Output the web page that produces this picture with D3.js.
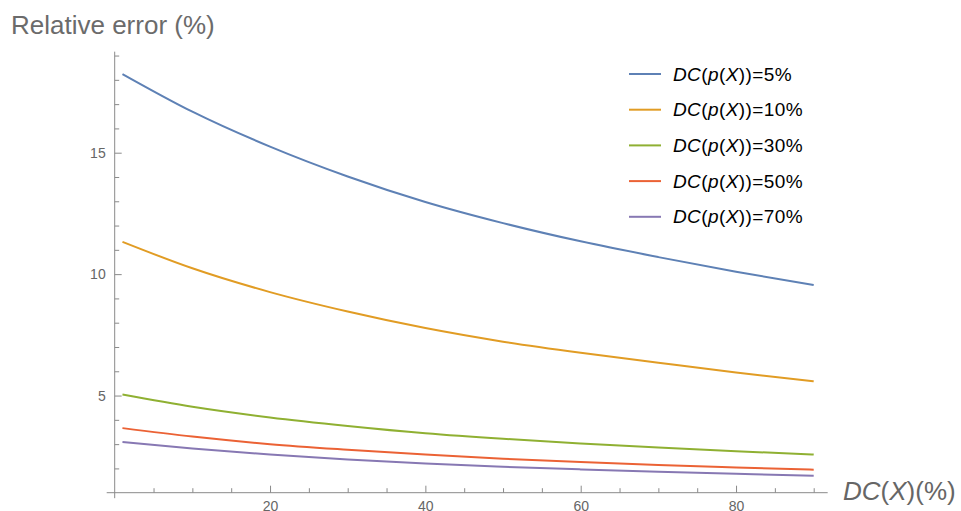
<!DOCTYPE html>
<html>
<head>
<meta charset="utf-8">
<script src="https://cdn.jsdelivr.net/npm/d3@7"></script>
<style>
  body { margin: 0; background: #fff; }
  svg { font-family: "Liberation Sans", Arial, sans-serif; }
</style>
</head>
<body>
<svg id="chart" width="961" height="511"></svg>
<script>
// DC(X) in %
const dcX = [1, 10, 20, 30, 40, 50, 60, 70, 80, 90];

// relative error (%) per DC(p(X)) level
const err5  = [18.24, 16.69, 15.25, 14.02, 12.97, 12.1, 11.35, 10.7, 10.1, 9.55];
const err10 = [11.33, 10.24, 9.26, 8.46, 7.78, 7.22, 6.76, 6.35, 5.95, 5.59];
const err30 = [5.04, 4.54, 4.1, 3.75, 3.45, 3.22, 3.03, 2.86, 2.71, 2.57];
const err50 = [3.66, 3.31, 3.0, 2.77, 2.57, 2.4, 2.26, 2.14, 2.04, 1.95];
const err70 = [3.09, 2.82, 2.57, 2.37, 2.2, 2.07, 1.96, 1.86, 1.78, 1.70];

const seriesNames = ["5%", "10%", "30%", "50%", "70%"];
const seriesValues = [err5, err10, err30, err50, err70];
const colors = ["#5e81b5", "#e19c24", "#8fb032", "#eb6235", "#8778b3"];

const xMajor = [20, 40, 60, 80];
const yMajor = [5, 10, 15];

const svg = d3.select("#chart");

const x = d3.scaleLinear().domain([0, 90]).range([114.7, 813.7]);
const y = d3.scaleLinear().domain([1, 15]).range([492.7, 152.7]);

const axisColor = "#8a8a8a";
const labelColor = "#666";

// axis lines (Mathematica style: they overshoot the origin a little)
svg.append("line")
  .attr("x1", x(0)).attr("x2", x(0))
  .attr("y1", y(19.16)).attr("y2", y(1) + 5.5)
  .attr("stroke", axisColor);
svg.append("line")
  .attr("x1", x(0) - 8).attr("x2", x(91.8))
  .attr("y1", y(1)).attr("y2", y(1))
  .attr("stroke", axisColor);

// y ticks
const yMinor = d3.range(2, 20).filter(v => v % 5 !== 0);
const yAxis = svg.append("g")
  .attr("transform", `translate(${x(0)},0)`)
  .call(d3.axisLeft(y).tickValues(yMajor).tickSizeInner(-7).tickSizeOuter(0).tickPadding(8));
const yAxisMinor = svg.append("g")
  .attr("transform", `translate(${x(0)},0)`)
  .call(d3.axisLeft(y).tickValues(yMinor).tickSizeInner(-4.5).tickSizeOuter(0).tickFormat(""));

// x ticks
const xMinor = d3.range(5, 95, 5).filter(v => v % 20 !== 0);
const xAxis = svg.append("g")
  .attr("transform", `translate(0,${y(1)})`)
  .call(d3.axisBottom(x).tickValues(xMajor).tickSizeInner(-7).tickSizeOuter(0).tickPadding(8));
const xAxisMinor = svg.append("g")
  .attr("transform", `translate(0,${y(1)})`)
  .call(d3.axisBottom(x).tickValues(xMinor).tickSizeInner(-4.5).tickSizeOuter(0).tickFormat(""));

[yAxis, yAxisMinor, xAxis, xAxisMinor].forEach(g => {
  g.select(".domain").remove();
  g.selectAll(".tick line").attr("stroke", axisColor);
  g.selectAll(".tick text")
    .attr("fill", labelColor)
    .style("font-size", "14px")
    .style("font-family", "'Liberation Sans', Arial, sans-serif");
});
yAxis.selectAll(".tick text").attr("x", -9);

// curves
const line = d3.line()
  .x((d, i) => x(dcX[i]))
  .y(d => y(d))
  .curve(d3.curveMonotoneX);

svg.append("g")
  .selectAll("path")
  .data(seriesValues)
  .join("path")
    .attr("d", d => line(d))
    .attr("fill", "none")
    .attr("stroke", (d, i) => colors[i])
    .attr("stroke-width", 2);

// title
svg.append("text")
  .attr("x", 11).attr("y", 34)
  .attr("fill", "#6b6b6b")
  .style("font-size", "26px")
  .text("Relative error (%)");

// x axis label: DC(X)(%)
const xl = svg.append("text")
  .attr("x", 843).attr("y", 500)
  .attr("fill", labelColor)
  .style("font-size", "26px");
xl.append("tspan").style("font-style", "italic").text("DC");
xl.append("tspan").text("(");
xl.append("tspan").style("font-style", "italic").text("X");
xl.append("tspan").text(")(%)");

// legend
const legend = svg.append("g").attr("transform", "translate(629,74)");
const items = legend.selectAll("g")
  .data(seriesNames)
  .join("g")
    .attr("transform", (d, i) => `translate(0,${i * 35.7})`);

items.append("line")
  .attr("x1", 0).attr("x2", 32)
  .attr("stroke", (d, i) => colors[i])
  .attr("stroke-width", 2);

const lt = items.append("text")
  .attr("x", 44).attr("y", 6.5)
  .attr("fill", "#000")
  .style("font-size", "19px")
  .style("letter-spacing", "0.4px");
lt.append("tspan").style("font-style", "italic").text("DC");
lt.append("tspan").text("(");
lt.append("tspan").style("font-style", "italic").text("p");
lt.append("tspan").text("(");
lt.append("tspan").style("font-style", "italic").text("X");
lt.append("tspan").text(d => "))=" + d);
</script>
</body>
</html>
